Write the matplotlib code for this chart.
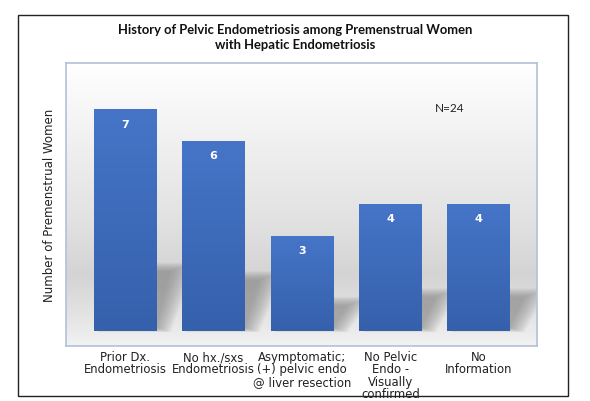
import matplotlib
matplotlib.use("Agg")
import matplotlib.pyplot as plt
import numpy as np
from matplotlib.colors import LinearSegmentedColormap
from matplotlib.patches import Polygon, Rectangle

categories = [
    "Prior Dx.\nEndometriosis",
    "No hx./sxs\nEndometriosis",
    "Asymptomatic;\n(+) pelvic endo\n@ liver resection",
    "No Pelvic\nEndo -\nVisually\nconfirmed",
    "No\nInformation",
]
counts = [7, 6, 3, 4, 4]
title = "History of Pelvic Endometriosis among Premenstrual Women\nwith Hepatic Endometriosis"
ylabel = "Number of Premenstrual Women"
note = "N=24"

fig = plt.figure(figsize=(5.9, 4.02), dpi=100)
fig.patch.set_facecolor("white")

# outer chart frame
fig.patches.append(Rectangle((18 / 590, 5 / 402), 550 / 590, 381 / 402,
                             transform=fig.transFigure, fill=False,
                             edgecolor="#222222", linewidth=1.0, zorder=0))

ax = fig.add_axes([66 / 590, 55 / 402, 471 / 590, 283 / 402])
xlim = (-0.67, 4.66)
ylim = (-0.475, 8.48)

# plot area background gradient
bg = LinearSegmentedColormap.from_list(
    "bg", [(0.0, "#f2f2f2"), (0.12, "#e2e2e2"), (0.25, "#d4d4d4"),
           (0.45, "#e2e2e2"), (1.0, "#ffffff")])
grad = np.linspace(0, 1, 256).reshape(-1, 1)
ax.imshow(grad, cmap=bg, aspect="auto", extent=(*xlim, *ylim), origin="lower", zorder=0)

x = np.arange(len(categories))
w = 0.71
barcmap = LinearSegmentedColormap.from_list("bar", ["#3560ab", "#4675c8"])

for xi, v in zip(x, counts):
    # soft cast shadow behind each bar
    for k in range(10):
        grow = k * 0.03
        poly = Polygon([(xi - w / 2 + 0.05, 0.1 - grow * 0.5),
                        (xi + w / 2 + grow * 0.6, 0.1 - grow * 0.5),
                        (xi + w / 2 + 0.16 + grow, v * 0.27 + grow),
                        (xi - w / 2 + 0.3, v * 0.27 + grow)],
                       closed=True, facecolor="#6e6e6e", edgecolor="none",
                       alpha=0.065, zorder=1)
        ax.add_patch(poly)
    ax.imshow(grad, cmap=barcmap, aspect="auto",
              extent=(xi - w / 2, xi + w / 2, 0, v), origin="lower", zorder=2)
    ax.text(xi, v - 0.28, str(v), ha="center", va="top", color="white",
            fontsize=8, fontweight="bold", zorder=3)

ax.set_xlim(*xlim)
ax.set_ylim(*ylim)

for s in ax.spines.values():
    s.set_edgecolor("#b4c0d8")
    s.set_linewidth(1.2)

ax.set_yticks([])
ax.set_xticks(x)
ax.set_xticklabels(categories, fontsize=8.4, linespacing=0.93, color="#222222")
ax.tick_params(axis="x", length=0, pad=3)
ax.set_ylabel(ylabel, fontsize=8.5, color="#222222", labelpad=7)

ax.text(3.67, 7.08, note, fontsize=8.5, family="Lato", ha="center", va="center",
        color="#222222")

fig.text(0.5, 0.907, title, ha="center", va="center", fontsize=9.4,
         fontweight="bold", family="Lato", linespacing=1.25, color="#111111")

fig.savefig("out.png", dpi=100)
